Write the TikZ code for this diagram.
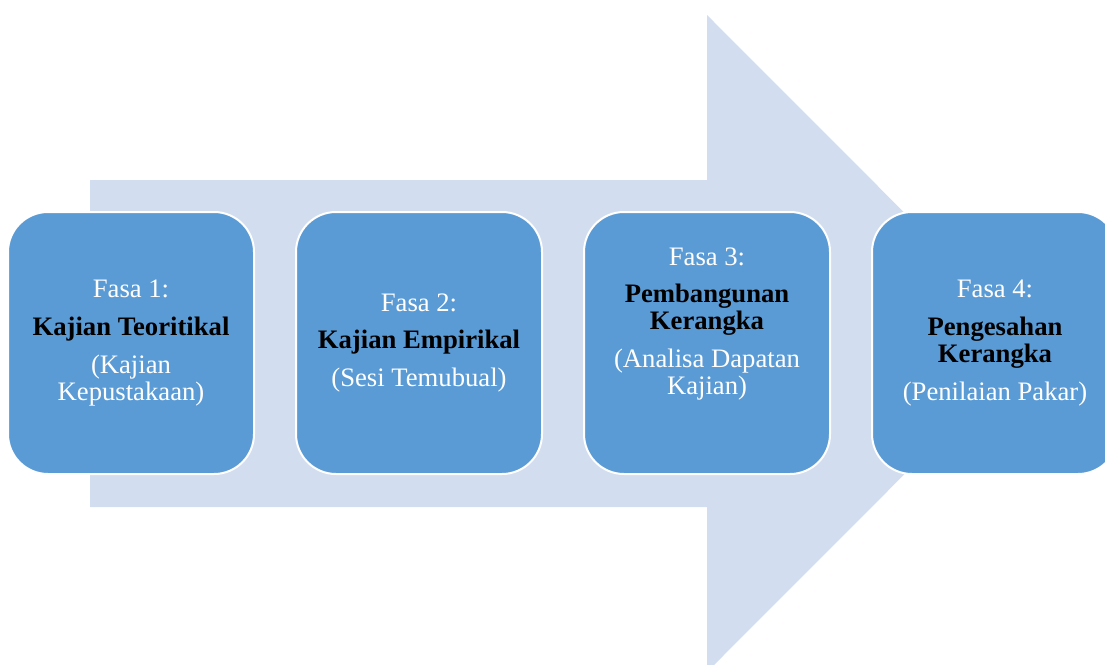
\documentclass[tikz,border=0pt]{standalone}
\usepackage{fontspec}
\setmainfont{Liberation Serif}
\usetikzlibrary{positioning}

\definecolor{fasablue}{HTML}{5B9BD5}
\definecolor{arrowblue}{HTML}{D2DEEF}
\newcommand\judul[1]{\textcolor{black}{\bfseries #1}}

\begin{document}
\begin{tikzpicture}[x=0.75pt, y=-0.75pt,
  fasa/.style={draw=white, line width=1.5pt, fill=fasablue,
    rounded corners=30pt, minimum width=184.5pt, minimum height=196.5pt,
    inner sep=0pt, align=center, text=white,
    font=\fontsize{20}{20.25}\selectfont}
]

% Fix the page size and cut off what runs past it
\useasboundingbox (0,0) rectangle (1105,664);
\clip (0,0) rectangle (1105,664);

% Draw the big arrow behind the phases
\fill[arrowblue] (90,180) -- (707,180) -- (707,15) -- (1035,343.5)
  -- (707,672) -- (707,507) -- (90,507) -- cycle;

% Phase boxes, left to right
\node[fasa] (fasa1) at (131,343)
  {Fasa 1:\\[8pt] \judul{Kajian Teoritikal}\\[8pt] (Kajian\\Kepustakaan)};
\node[fasa, right=30pt of fasa1] (fasa2)
  {Fasa 2:\\[8pt] \judul{Kajian Empirikal}\\[8pt] (Sesi Temubual)};
% text sits a little high in this one
\node[fasa, right=30pt of fasa2] (fasa3)
  {Fasa 3:\\[8pt] \judul{Pembangunan}\\\judul{Kerangka}\\[8pt] (Analisa Dapatan\\Kajian)\\[13pt]~};
\node[fasa, right=30pt of fasa3] (fasa4)
  {Fasa 4:\\[8pt] \judul{Pengesahan}\\\judul{Kerangka}\\[8pt] (Penilaian Pakar)};

\end{tikzpicture}
\end{document}
